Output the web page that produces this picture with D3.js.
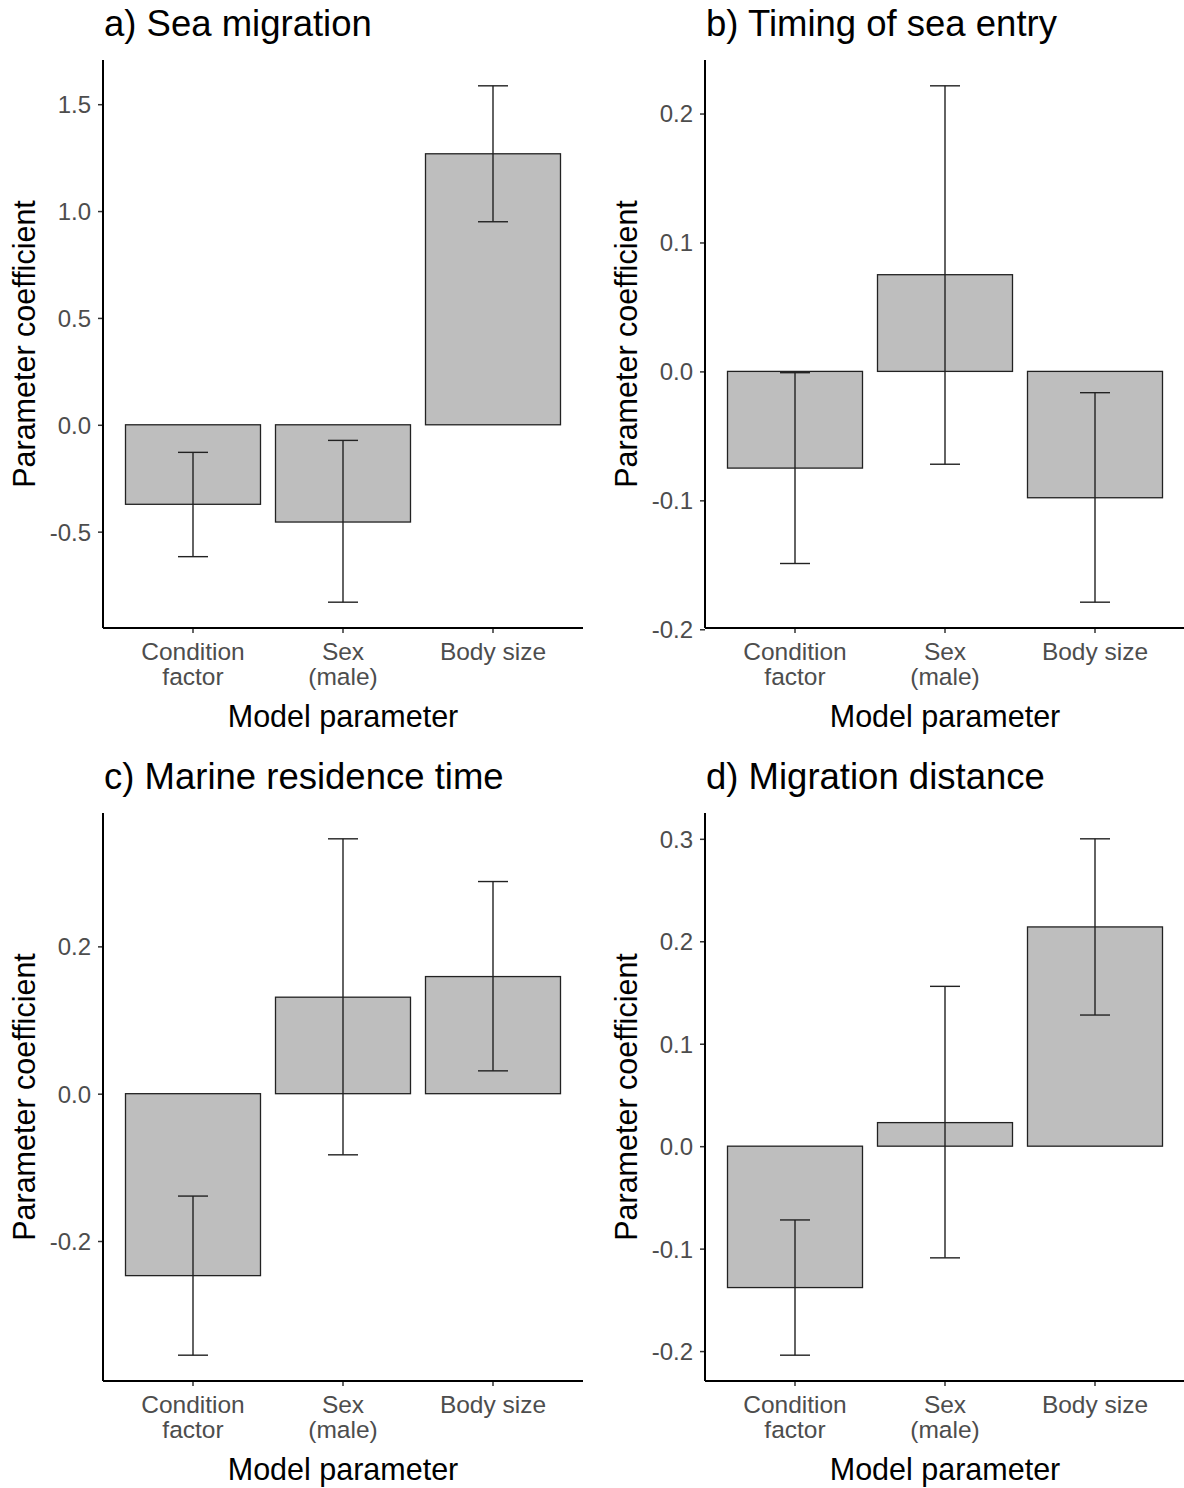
<!DOCTYPE html>
<html>
<head>
<meta charset="utf-8">
<script src="https://cdn.jsdelivr.net/npm/d3@7"></script>
<style>
  body { margin: 0; background: #fff; }
  svg { font-family: "Liberation Sans", Arial, sans-serif; }
</style>
</head>
<body>
<div id="chart"></div>
<script>
// categories shared by all panels
const categories = ["Condition factor", "Sex (male)", "Body size"];
const categoryLines = [["Condition", "factor"], ["Sex", "(male)"], ["Body size"]];

// panel titles
const titles = ["a) Sea migration", "b) Timing of sea entry", "c) Marine residence time", "d) Migration distance"];

// coefficient estimates
const seaMigration = [-0.372, -0.455, 1.268];
const seaEntry = [-0.075, 0.075, -0.098];
const residence = [-0.247, 0.131, 0.159];
const distance = [-0.138, 0.023, 0.214];

// error bar limits
const seaMigrationLow = [-0.617, -0.830, 0.950];
const seaMigrationHigh = [-0.129, -0.073, 1.586];
const seaEntryLow = [-0.149, -0.072, -0.179];
const seaEntryHigh = [-0.001, 0.2215, -0.0165];
const residenceLow = [-0.355, -0.083, 0.031];
const residenceHigh = [-0.139, 0.346, 0.288];
const distanceLow = [-0.204, -0.109, 0.128];
const distanceHigh = [-0.072, 0.156, 0.300];

// y tick labels
const ticksA = [-0.5, 0.0, 0.5, 1.0, 1.5];
const ticksB = [-0.2, -0.1, 0.0, 0.1, 0.2];
const ticksC = [-0.2, 0.0, 0.2];
const ticksD = [-0.2, -0.1, 0.0, 0.1, 0.2, 0.3];

const panels = [
  { title: titles[0], est: seaMigration, lo: seaMigrationLow, hi: seaMigrationHigh, ticks: ticksA, x: 103, y: 60 },
  { title: titles[1], est: seaEntry, lo: seaEntryLow, hi: seaEntryHigh, ticks: ticksB, x: 705, y: 60 },
  { title: titles[2], est: residence, lo: residenceLow, hi: residenceHigh, ticks: ticksC, x: 103, y: 813 },
  { title: titles[3], est: distance, lo: distanceLow, hi: distanceHigh, ticks: ticksD, x: 705, y: 813 }
];

const width = 1184;
const height = 1488;
const plotW = 480;
const plotH = 568;

const svg = d3.select("#chart")
  .append("svg")
  .attr("width", width)
  .attr("height", height);

panels.forEach((p) => {
  const g = svg.append("g").attr("transform", `translate(${p.x},${p.y})`);

  // discrete scale like ggplot: 0.6 units of padding each side
  const x = d3.scaleBand()
    .domain(categories)
    .range([0, plotW])
    .paddingInner(0)
    .paddingOuter(0.1);
  const step = x.step();
  const cx = (c) => x(c) + step / 2;

  // continuous scale, 5% expansion of data range (bars include zero)
  const lowAll = d3.min([...p.lo, ...p.est, 0]);
  const highAll = d3.max([...p.hi, ...p.est, 0]);
  const pad = (highAll - lowAll) * 0.05;
  const y = d3.scaleLinear()
    .domain([lowAll - pad, highAll + pad])
    .range([plotH, 0]);

  // bars
  g.selectAll(".bar")
    .data(categories)
    .enter()
    .append("rect")
    .attr("x", (c) => cx(c) - step * 0.45)
    .attr("width", step * 0.9)
    .attr("y", (c, i) => y(Math.max(0, p.est[i])))
    .attr("height", (c, i) => Math.abs(y(p.est[i]) - y(0)))
    .attr("fill", "#bebebe")
    .attr("stroke", "#222")
    .attr("stroke-width", 1.3);

  // error bars
  const eb = g.selectAll(".err")
    .data(categories)
    .enter()
    .append("g")
    .attr("stroke", "#222")
    .attr("stroke-width", 1.4);
  eb.append("line")
    .attr("x1", (c) => cx(c)).attr("x2", (c) => cx(c))
    .attr("y1", (c, i) => y(p.lo[i])).attr("y2", (c, i) => y(p.hi[i]));
  eb.append("line")
    .attr("x1", (c) => cx(c) - step * 0.1).attr("x2", (c) => cx(c) + step * 0.1)
    .attr("y1", (c, i) => y(p.lo[i])).attr("y2", (c, i) => y(p.lo[i]));
  eb.append("line")
    .attr("x1", (c) => cx(c) - step * 0.1).attr("x2", (c) => cx(c) + step * 0.1)
    .attr("y1", (c, i) => y(p.hi[i])).attr("y2", (c, i) => y(p.hi[i]));

  // y axis
  const yAxis = g.append("g")
    .call(d3.axisLeft(y).tickValues(p.ticks).tickSize(5).tickPadding(7)
      .tickFormat((d) => d.toFixed(1)));
  yAxis.select(".domain").remove();
  yAxis.selectAll(".tick line").attr("stroke", "#333").attr("stroke-width", 1.5);
  yAxis.selectAll(".tick text")
    .attr("fill", "#4d4d4d")
    .style("font-size", "24px")
    .attr("dy", "0.35em");

  // x axis ticks
  const xAxis = g.append("g")
    .attr("transform", `translate(0,${plotH})`)
    .call(d3.axisBottom(x).tickSize(5).tickFormat(""));
  xAxis.select(".domain").remove();
  xAxis.selectAll(".tick line").attr("stroke", "#333").attr("stroke-width", 1.5);

  // x tick labels, two lines
  categories.forEach((c, i) => {
    const t = g.append("text")
      .attr("x", cx(c))
      .attr("y", plotH + 32)
      .attr("text-anchor", "middle")
      .attr("fill", "#4d4d4d")
      .style("font-size", "24.5px");
    categoryLines[i].forEach((line, j) => {
      t.append("tspan")
        .attr("x", cx(c))
        .attr("dy", j === 0 ? 0 : 25)
        .text(line);
    });
  });

  // axis lines
  g.append("line")
    .attr("x1", 0).attr("x2", 0).attr("y1", 0).attr("y2", plotH)
    .attr("stroke", "#000").attr("stroke-width", 2);
  g.append("line")
    .attr("x1", 0).attr("x2", plotW).attr("y1", plotH).attr("y2", plotH)
    .attr("stroke", "#000").attr("stroke-width", 2);

  // axis titles
  g.append("text")
    .attr("x", plotW / 2)
    .attr("y", plotH + 99)
    .attr("text-anchor", "middle")
    .style("font-size", "30.5px")
    .attr("fill", "#000")
    .text("Model parameter");
  g.append("text")
    .attr("transform", `translate(${-68},${plotH / 2}) rotate(-90)`)
    .attr("text-anchor", "middle")
    .style("font-size", "30.5px")
    .attr("fill", "#000")
    .text("Parameter coefficient");

  // panel title
  g.append("text")
    .attr("x", 1)
    .attr("y", -24)
    .style("font-size", "36.5px")
    .attr("fill", "#000")
    .text(p.title);
});
</script>
</body>
</html>
